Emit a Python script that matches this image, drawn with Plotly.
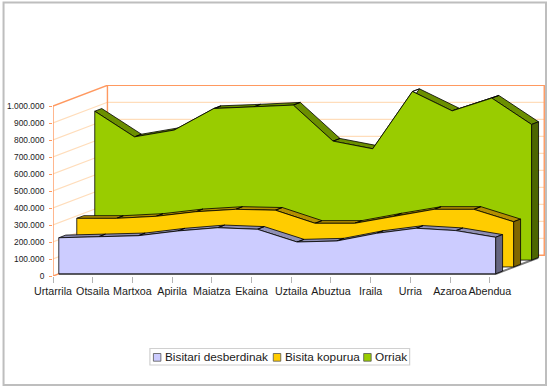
import plotly.graph_objects as go

months = ["Urtarrila", "Otsaila", "Martxoa", "Apirila", "Maiatza", "Ekaina",
          "Uztaila", "Abuztua", "Iraila", "Urria", "Azaroa", "Abendua"]
bisitari = [212000, 218000, 224000, 252000, 271000, 262000,
            187000, 193000, 238000, 268000, 254000, 215000]
bisita = [286000, 286000, 298000, 325000, 339000, 334000,
          257000, 257000, 300000, 339000, 339000, 266000]
orriak = [876000, 725000, 765000, 892000, 901000, 912000,
          700000, 655000, 992000, 878000, 953000, 798000]
names = ["Bisitari desberdinak", "Bisita kopurua", "Orriak"]
y_ticks = [0, 100000, 200000, 300000, 400000, 500000, 600000, 700000, 800000, 900000, 1000000]

W, H = 550, 389
L, R, T, B = 52.5, 546.0, 85.0, 276.0
PX_X = 39.75            # pixels per month
PX_Y = 170 / 1e6        # pixels per visit
SLOPE = 20.7 / 54.5     # oblique projection of the depth axis


def dx(px):
    return px / PX_X


def dy(px):
    return px * SLOPE / PX_Y


def project(i, v, depth):
    return i + dx(depth), v + dy(depth)


def px_x(p):
    return (p - L) / (R - L)


def px_y(p):
    return (B - p) / (B - T)


GRID, WALL = "#FFDDBB", "#FF9960"
DEPTH = 54.5
THICK = 7.0
n = len(months)
traces = []


def poly(xs, ys, fill, line="#000000", width=0.8):
    traces.append(go.Scatter(x=xs, y=ys, mode="lines", fill="toself", fillcolor=fill,
                             line=dict(color=line, width=width), hoverinfo="skip",
                             showlegend=False, cliponaxis=False))


def path(xs, ys, color, width=1.0):
    traces.append(go.Scatter(x=xs, y=ys, mode="lines", line=dict(color=color, width=width),
                             hoverinfo="skip", showlegend=False, cliponaxis=False))


# gridlines on the side wall and the back wall
for t in y_ticks[1:-1]:
    bx, by = project(0, t, DEPTH)
    ex, _ = project(n - 1, t, DEPTH)
    path([0, bx, ex], [t, by, by], GRID, 1.2)

# the walls
top = y_ticks[-1]
bx, by = project(0, top, DEPTH)
ex, _ = project(n - 1, top, DEPTH)
fx, fy = project(0, 0, DEPTH)
path([0, 0, bx, ex, ex, bx, bx], [0, top, by, by, fy, fy, by], WALL, 1.4)
path([0, fx], [0, fy], WALL, 1.4)

# floor shadow
sx0, sy0 = project(0, 0, 5.8)
sx1, sy1 = project(n - 1, 0, 5.8)
sx2, sy2 = project(n - 1, 0, 48.5)
path([sx0, sx1, sx2], [sy0 - dy(0.4), sy1 - dy(0.4), sy2 - dy(0.4)], "#7a7a7a", 2.0)


def slab(values, offset, front, ridge, side):
    # ridge parallelograms behind the front face
    xs, ys = [], []
    for i in range(n - 1):
        a = project(i, values[i], offset)
        b = project(i + 1, values[i + 1], offset)
        c = project(i + 1, values[i + 1], offset + THICK)
        d = project(i, values[i], offset + THICK)
        xs += [a[0], b[0], c[0], d[0], a[0], None]
        ys += [a[1], b[1], c[1], d[1], a[1], None]
    poly(xs, ys, ridge)
    # right side face
    a = project(n - 1, values[-1], offset)
    c = project(n - 1, values[-1], offset + THICK)
    d = project(n - 1, 0, offset + THICK)
    e = project(n - 1, 0, offset)
    poly([a[0], c[0], d[0], e[0], a[0]], [a[1], c[1], d[1], e[1], a[1]], side)
    # front face
    pts = [project(i, values[i], offset) for i in range(n)]
    b0 = project(0, 0, offset)
    b1 = project(n - 1, 0, offset)
    poly([b0[0]] + [p[0] for p in pts] + [b1[0], b0[0]],
         [b0[1]] + [p[1] for p in pts] + [b1[1], b0[1]], front)


slab(orriak, 41.8, "#99CC00", "#6B8F00", "#4D6600")
slab(bisita, 23.8, "#FFCC00", "#B38F00", "#806600")
slab(bisitari, 5.8, "#CCCCFF", "#8F8FB3", "#666680")

fig = go.Figure(traces)

shapes = [dict(type="rect", xref="paper", yref="paper", x0=px_x(3), x1=px_x(546),
               y0=px_y(385), y1=px_y(2.5), line=dict(color="#BEBEBE", width=2), layer="below"),
          dict(type="rect", xref="paper", yref="paper", x0=px_x(149.5), x1=px_x(409.5),
               y0=px_y(365), y1=px_y(348.5), line=dict(color="#D0D0D0", width=1.2),
               fillcolor="white")]
annotations = []
legend_items = [(153, 164, "#CCCCFF"), (273, 283.5, "#FFCC00"), (363.5, 374, "#99CC00")]
for (sw, tx, col), name in zip(legend_items, names):
    shapes.append(dict(type="rect", xref="paper", yref="paper", x0=px_x(sw), x1=px_x(sw + 7.5),
                       y0=px_y(361.2), y1=px_y(353.5), fillcolor=col,
                       line=dict(color="#555555", width=0.8)))
    annotations.append(dict(xref="paper", yref="paper", x=px_x(tx), y=px_y(357.3),
                            xanchor="left", yanchor="middle", text=name, showarrow=False,
                            xshift=-1, font=dict(size=11.8, color="#1a1a1a")))

fig.update_layout(
    width=W, height=H, autosize=False,
    margin=dict(l=L, r=W - R, t=T, b=H - B, pad=0, autoexpand=False),
    paper_bgcolor="white", plot_bgcolor="white", showlegend=False,
    separators=",.",
    font=dict(family="Liberation Sans, Arial, sans-serif", color="#1a1a1a"),
    shapes=shapes, annotations=annotations,
    xaxis=dict(range=[0, (R - L) / PX_X], tickmode="array", tickvals=list(range(n)),
               ticktext=months, ticks="outside", ticklen=6, tickcolor="#B4B4B4",
               tickwidth=1, showgrid=False, zeroline=False, showline=False,
               tickangle=0, tickfont=dict(size=10.7), ticklabelstandoff=-1),
    yaxis=dict(range=[0, (B - T) / PX_Y], tickmode="array", tickvals=y_ticks,
               tickformat=",d", ticks="outside", ticklen=3, tickcolor=WALL,
               tickwidth=1, showgrid=False, zeroline=False, showline=False,
               tickfont=dict(size=8.4), ticklabelstandoff=3),
)

fig.write_html("out.html", post_script="document.body.style.margin='0';window.dispatchEvent(new Event('resize'));",
               config=dict(displayModeBar=False))
